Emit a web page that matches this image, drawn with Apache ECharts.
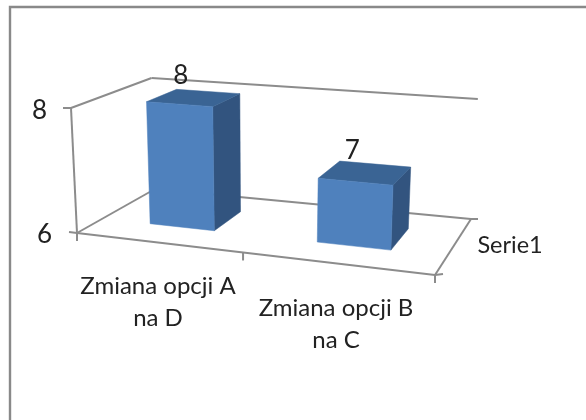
<!DOCTYPE html>
<html>
<head>
<meta charset="utf-8">
<style>html,body{margin:0;padding:0;background:#fff}#c{width:586px;height:420px}</style>
<script src="https://cdn.jsdelivr.net/npm/echarts@6/dist/echarts.min.js"></script>
</head>
<body>
<div id="c"></div>
<script>
const categories = ['Zmiana opcji A\nna D', 'Zmiana opcji B\nna C'];
const values = [8, 7];
const seriesName = 'Serie1';
const valueMin = 6, valueMax = 8, valueStep = 2;

const FONT = 'Lato, "Open Sans", sans-serif';
const TEXT = '#222222', LINE = '#8c8c8c';
const FRONT = '#4f81bd', SIDE = '#32547f', TOP = '#3a6494';

// Perspective floor: unit square mapped on to the floor quad
const p0 = [77, 233], p1 = [435, 275], p2 = [471, 219], p3 = [155, 189];
const sx = p0[0] - p1[0] + p2[0] - p3[0], sy = p0[1] - p1[1] + p2[1] - p3[1];
const dx1 = p1[0] - p2[0], dx2 = p3[0] - p2[0], dy1 = p1[1] - p2[1], dy2 = p3[1] - p2[1];
const det = dx1 * dy2 - dx2 * dy1;
const g = (sx * dy2 - dx2 * sy) / det, h = (dx1 * sy - sx * dy1) / det;
const A = p1[0] - p0[0] + g * p1[0], B = p3[0] - p0[0] + h * p3[0];
const D = p1[1] - p0[1] + g * p1[1], E = p3[1] - p0[1] + h * p3[1];

function project(u, w, t) {
  const q = g * u + h * w + 1;
  const X = (A * u + B * w + p0[0]) / q, Y = (D * u + E * w + p0[1]) / q;
  const rise = 125 - 0.00147 * (X - 77) + 0.316 * (Y - 233);
  const lean = -6 + (X - 77) * 0.0325;
  return [X + lean * t, Y - rise * t];
}
const line = (a, b) => ({
  type: 'line', silent: true,
  shape: { x1: a[0], y1: a[1], x2: b[0], y2: b[1] },
  style: { stroke: LINE, lineWidth: 2 }
});
const poly = (pts, fill) => ({
  type: 'polygon', silent: true,
  shape: { points: pts },
  style: { fill: fill, stroke: fill, lineWidth: 0.5 }
});
const add = (p, dx, dy) => [p[0] + dx, p[1] + dy];

function renderFrame(params, api) {
  const fl = project(0, 0, 0), fr = project(1, 0, 0), br = project(1, 1, 0), bl = project(0, 1, 0);
  const tfl = project(0, 0, 1), tbl = project(0, 1, 1), tbr = project(1, 1, 1);
  const mid = project(0.5, 0, 0);
  const lab = project(1, 0.5, 0);
  return {
    type: 'group',
    children: [
      line(fl, fr), line(fr, br), line(br, bl), line(bl, fl),
      line(tfl, tbl), line(tbl, tbr), line(tfl, fl),
      line(fl, add(fl, -8, -1)), line(tfl, add(tfl, -8, 0)),
      line(fl, add(fl, 0, 8)), line(mid, add(mid, 0, 8)), line(fr, add(fr, 0, 8)),
      line(fr, add(fr, 8, -1)), line(br, add(br, 7, 0)),
      { type: 'text', silent: true, style: {
          text: seriesName, x: lab[0] + 23, y: lab[1] + 1,
          font: '23.5px ' + FONT, fill: TEXT, align: 'left', verticalAlign: 'middle' } }
    ]
  };
}
function renderBar(params, api) {
  const cs = params.coordSys;
  const c = api.coord([api.value(0), api.value(1)]);
  const uc = (c[0] - cs.x) / cs.width + 0.005;
  const t = (cs.y + cs.height - c[1]) / cs.height;
  const u0 = uc - 0.1, u1 = uc + 0.1, w0 = 0.3, w1 = 0.7;
  const a = project(u0, w0, 0), b = project(u1, w0, 0), d = project(u1, w1, 0);
  const a2 = project(u0, w0, t), b2 = project(u1, w0, t), d2 = project(u1, w1, t), e2 = project(u0, w1, t);
  const top = project(uc, 0.5, t);
  return {
    type: 'group',
    children: [
      poly([b, d, d2, b2], SIDE),
      poly([a2, b2, d2, e2], TOP),
      poly([a, b, b2, a2], FRONT),
      { type: 'text', silent: true, style: {
          text: String(api.value(1)), x: top[0] - 13, y: top[1] - 22,
          font: '26px ' + FONT, fill: TEXT, align: 'center', verticalAlign: 'middle' } }
    ]
  };
}

const chart = echarts.init(document.getElementById('c'), null, { renderer: 'canvas' });
chart.setOption({
  animation: false,
  backgroundColor: '#ffffff',
  graphic: [{
    type: 'rect', z: 0, silent: true,
    shape: { x: 10, y: 7, width: 640, height: 480 },
    style: { fill: '#ffffff', stroke: '#898989', lineWidth: 2.4 }
  }],
  grid: { left: 69, top: 108, width: 356, height: 125, containLabel: false },
  xAxis: {
    type: 'category',
    data: categories,
    axisLine: { show: false },
    axisTick: { show: false },
    splitLine: { show: false },
    axisLabel: {
      interval: 0, margin: 37, hideOverlap: false,
      formatter: (v, i) => {
        const body = v.split('\n').map(s => '{a|' + s + '}').join('\n');
        return i === 1 ? '{s| }\n' + body : body;
      },
      rich: {
        a: { fontFamily: FONT, fontSize: 24, lineHeight: 32, color: TEXT, align: 'center' },
        s: { fontSize: 10, lineHeight: 22 }
      }
    }
  },
  yAxis: {
    type: 'value',
    min: valueMin, max: valueMax, interval: valueStep,
    axisLine: { show: false },
    axisTick: { show: false },
    splitLine: { show: false },
    axisLabel: {
      margin: 17,
      fontFamily: FONT, fontSize: 26, color: TEXT,
      formatter: v => v === 8 ? '{e|8}' : '{s|' + v + '}',
      rich: {
        e: { fontFamily: FONT, fontSize: 26, color: TEXT, padding: [5, 5, 0, 0] },
        s: { fontFamily: FONT, fontSize: 26, color: TEXT, padding: [4, 0, 0, 0] }
      }
    }
  },
  series: [
    { type: 'custom', name: 'frame', z: 2, clip: false, silent: true,
      renderItem: renderFrame, data: [[0, valueMin]], encode: { x: 0, y: 1 } },
    { type: 'custom', name: seriesName, z: 3, clip: false, silent: true,
      renderItem: renderBar, data: values.map((v, i) => [i, v]), encode: { x: 0, y: 1 } }
  ]
});
</script>
</body>
</html>
